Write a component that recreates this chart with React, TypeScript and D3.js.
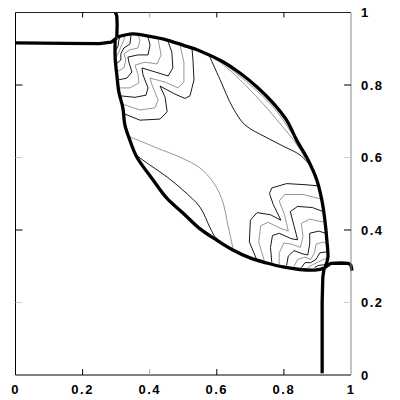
import React from 'react';
import * as d3 from 'd3';

type Pt = [number, number];

// axis ticks
const xTicks = [0, 0.2, 0.4, 0.6, 0.8, 1];
const yTicks = [0, 0.2, 0.4, 0.6, 0.8, 1];
const tickLabels = ['0', '0.2', '0.4', '0.6', '0.8', '1'];
const faintYTicks = [0.2, 0.6];
const faintXTicks = [0.4];

// thick shock / slip lines
const leftShock: Pt[] = [[0, 0.916], [0.15, 0.915], [0.25, 0.914], [0.285, 0.918], [0.302, 0.93]];
const topShock: Pt[] = [[0.302, 0.932], [0.303, 0.965], [0.302, 0.99], [0.298, 1.0]];
const upperArc: Pt[] = [
  [0.302, 0.932], [0.35, 0.941], [0.401, 0.934], [0.452, 0.924], [0.499, 0.91], [0.55, 0.894],
  [0.618, 0.864], [0.669, 0.833], [0.719, 0.795], [0.768, 0.75], [0.808, 0.703], [0.838, 0.648],
  [0.872, 0.593], [0.898, 0.538], [0.913, 0.483], [0.922, 0.428], [0.928, 0.372], [0.931, 0.323],
  [0.922, 0.295],
];
const lowerArc: Pt[] = [
  [0.297, 0.924], [0.297, 0.875], [0.302, 0.828], [0.308, 0.781], [0.32, 0.737], [0.326, 0.69],
  [0.34, 0.65], [0.361, 0.602], [0.41, 0.538], [0.451, 0.488], [0.499, 0.447], [0.55, 0.403],
  [0.6, 0.372], [0.648, 0.345], [0.699, 0.323], [0.749, 0.309], [0.797, 0.298], [0.848, 0.291],
  [0.898, 0.29], [0.92, 0.295],
];
const rightShock: Pt[] = [[0.922, 0.297], [0.94, 0.308], [0.97, 0.309], [0.993, 0.308], [1.0, 0.302], [1.003, 0.288]];
const bottomShock: Pt[] = [[0.92, 0.295], [0.916, 0.27], [0.914, 0.2], [0.914, 0.1], [0.914, 0.005]];

// thin density contours, upper-left cluster
const ulBlack: Pt[][] = [
  [[0.32, 0.722], [0.371, 0.703], [0.431, 0.706], [0.452, 0.726], [0.446, 0.766], [0.431, 0.797], [0.475, 0.775], [0.505, 0.763], [0.52, 0.77], [0.532, 0.814], [0.529, 0.869], [0.526, 0.902]],
  [[0.314, 0.77], [0.356, 0.766], [0.389, 0.772], [0.395, 0.792], [0.38, 0.828], [0.377, 0.847], [0.416, 0.836], [0.455, 0.825], [0.469, 0.847], [0.466, 0.891], [0.455, 0.919]],
  [[0.306, 0.814], [0.332, 0.819], [0.347, 0.836], [0.338, 0.863], [0.335, 0.877], [0.365, 0.883], [0.395, 0.883], [0.401, 0.91], [0.395, 0.932]],
  [[0.3, 0.858], [0.314, 0.869], [0.314, 0.886], [0.323, 0.902], [0.341, 0.913], [0.344, 0.936]],
  [[0.3, 0.897], [0.306, 0.908], [0.308, 0.924], [0.311, 0.933]],
];
const ulGray: Pt[][] = [
  [[0.317, 0.748], [0.371, 0.731], [0.416, 0.737], [0.425, 0.759], [0.407, 0.8], [0.401, 0.819], [0.446, 0.808], [0.484, 0.792], [0.502, 0.808], [0.502, 0.863], [0.49, 0.911]],
  [[0.308, 0.792], [0.341, 0.792], [0.368, 0.806], [0.365, 0.83], [0.356, 0.855], [0.386, 0.863], [0.422, 0.858], [0.434, 0.883], [0.425, 0.927]],
  [[0.303, 0.836], [0.323, 0.847], [0.329, 0.869], [0.323, 0.886], [0.341, 0.897], [0.365, 0.902], [0.371, 0.924], [0.365, 0.937]],
  [[0.3, 0.877], [0.308, 0.891], [0.314, 0.905], [0.323, 0.924], [0.326, 0.937]],
];

// lower-right cluster
const lrBlack: Pt[][] = [
  [[0.72, 0.316], [0.697, 0.367], [0.7, 0.427], [0.72, 0.448], [0.76, 0.442], [0.791, 0.427], [0.768, 0.471], [0.757, 0.501], [0.764, 0.516], [0.808, 0.528], [0.863, 0.525], [0.9, 0.522]],
  [[0.764, 0.31], [0.76, 0.352], [0.766, 0.385], [0.786, 0.391], [0.822, 0.376], [0.841, 0.373], [0.83, 0.412], [0.819, 0.451], [0.841, 0.465], [0.885, 0.462], [0.916, 0.451]],
  [[0.808, 0.302], [0.813, 0.328], [0.83, 0.343], [0.857, 0.334], [0.871, 0.331], [0.877, 0.361], [0.877, 0.391], [0.904, 0.397], [0.924, 0.391]],
  [[0.852, 0.296], [0.863, 0.31], [0.88, 0.31], [0.896, 0.319], [0.907, 0.337], [0.929, 0.34]],
  [[0.891, 0.296], [0.902, 0.302], [0.918, 0.304], [0.927, 0.307]],
];
const lrGray: Pt[][] = [
  [[0.742, 0.313], [0.725, 0.367], [0.731, 0.412], [0.753, 0.421], [0.794, 0.403], [0.813, 0.397], [0.802, 0.442], [0.786, 0.48], [0.802, 0.498], [0.857, 0.498], [0.908, 0.486]],
  [[0.786, 0.304], [0.786, 0.337], [0.8, 0.364], [0.824, 0.361], [0.849, 0.352], [0.857, 0.382], [0.852, 0.418], [0.877, 0.43], [0.922, 0.421]],
  [[0.83, 0.299], [0.841, 0.319], [0.863, 0.325], [0.88, 0.319], [0.891, 0.337], [0.896, 0.361], [0.918, 0.367], [0.928, 0.361]],
  [[0.871, 0.296], [0.885, 0.304], [0.899, 0.31], [0.918, 0.319], [0.93, 0.322]],
];

// long contours across the middle
const midBlack: Pt[][] = [
  [[0.578, 0.88], [0.61, 0.814], [0.648, 0.737], [0.684, 0.69], [0.744, 0.657], [0.803, 0.629], [0.848, 0.607], [0.878, 0.579]],
  [[0.363, 0.604], [0.401, 0.579], [0.452, 0.546], [0.499, 0.51], [0.55, 0.463], [0.58, 0.406], [0.595, 0.381], [0.616, 0.366]],
];
const midGray: Pt[][] = [
  [[0.598, 0.872], [0.654, 0.828], [0.714, 0.772], [0.759, 0.726], [0.797, 0.684], [0.833, 0.643], [0.863, 0.599]],
  [[0.62, 0.86], [0.7, 0.8], [0.77, 0.737], [0.82, 0.672], [0.85, 0.625]],
  [[0.341, 0.657], [0.386, 0.64], [0.422, 0.626], [0.49, 0.601], [0.55, 0.571], [0.589, 0.532], [0.616, 0.483], [0.633, 0.414], [0.648, 0.35]],
];

const x = d3.scaleLinear([0, 1], [15.5, 351]);
const y = d3.scaleLinear([0, 1], [375, 12.5]);

const poly = d3.line<Pt>().x(d => x(d[0])).y(d => y(d[1]));
const smooth = d3.line<Pt>().x(d => x(d[0])).y(d => y(d[1])).curve(d3.curveCatmullRom.alpha(0.5));

const font = { fontFamily: '"Liberation Sans", Arial, sans-serif', fontWeight: 700, fontSize: 13, letterSpacing: 1.5 };

export default function App() {
  const thick = [leftShock, topShock, upperArc, lowerArc, rightShock, bottomShock];
  const clusterGray = [...ulGray, ...lrGray];
  const clusterBlack = [...ulBlack, ...lrBlack];
  return (
    <svg width={400} height={400} viewBox="0 0 400 400"
      style={{ position: 'absolute', left: 0, top: 0, background: '#fff' }}>
      <rect width={400} height={400} fill="#fff" />

      {/* thin contours */}
      <g fill="none" strokeWidth={0.9} strokeLinejoin="round">
        {clusterGray.map((c, i) => (
          <path key={'cg' + i} d={poly(c) ?? ''} stroke="#8a8a8a" />
        ))}
        {clusterBlack.map((c, i) => (
          <path key={'cb' + i} d={poly(c) ?? ''} stroke="#000" />
        ))}
        {midGray.map((c, i) => (
          <path key={'mg' + i} d={smooth(c) ?? ''} stroke="#8a8a8a" />
        ))}
        {midBlack.map((c, i) => (
          <path key={'mb' + i} d={smooth(c) ?? ''} stroke="#000" />
        ))}
      </g>

      {/* shocks */}
      <g fill="none" stroke="#000" strokeWidth={3.3} strokeLinejoin="round">
        {thick.map((c, i) => (
          <path key={'t' + i} d={(i === 2 || i === 3 ? smooth(c) : poly(c)) ?? ''} />
        ))}
      </g>

      {/* frame */}
      <g fill="none" strokeWidth={1}>
        <line x1={x(0)} x2={x(1)} y1={y(1)} y2={y(1)} stroke="#222" />
        <line x1={x(0)} x2={x(1)} y1={y(0)} y2={y(0)} stroke="#000" />
        <line x1={x(0)} x2={x(0)} y1={y(0)} y2={y(1)} stroke="#000" />
        <line x1={x(1)} x2={x(1)} y1={y(0)} y2={y(1)} stroke="#888" />
      </g>

      {/* ticks */}
      <g strokeWidth={1}>
        {xTicks.slice(1, -1).map(v => {
          const c = faintXTicks.includes(v) ? '#aaa' : '#000';
          return (
            <g key={'xt' + v} stroke={c}>
              <line x1={x(v)} x2={x(v)} y1={y(0)} y2={y(0) - 6} />
              <line x1={x(v)} x2={x(v)} y1={y(1)} y2={y(1) + 5} />
            </g>
          );
        })}
        {yTicks.slice(1, -1).map(v => {
          const c = faintYTicks.includes(v) ? '#ccc' : '#000';
          return (
            <g key={'yt' + v} stroke={c}>
              <line x1={x(0)} x2={x(0) + 7} y1={y(v)} y2={y(v)} />
              <line x1={x(1)} x2={x(1) - 7} y1={y(v)} y2={y(v)} />
            </g>
          );
        })}
      </g>

      {/* labels */}
      <g style={font} fill="#000">
        {xTicks.map((v, i) => (
          <text key={'xl' + v} x={x(v)} y={394} textAnchor="middle">{tickLabels[i]}</text>
        ))}
        {yTicks.map((v, i) => (
          <text key={'yl' + v} x={361} y={y(v) + 4.5} textAnchor="start">{tickLabels[i]}</text>
        ))}
      </g>
    </svg>
  );
}
